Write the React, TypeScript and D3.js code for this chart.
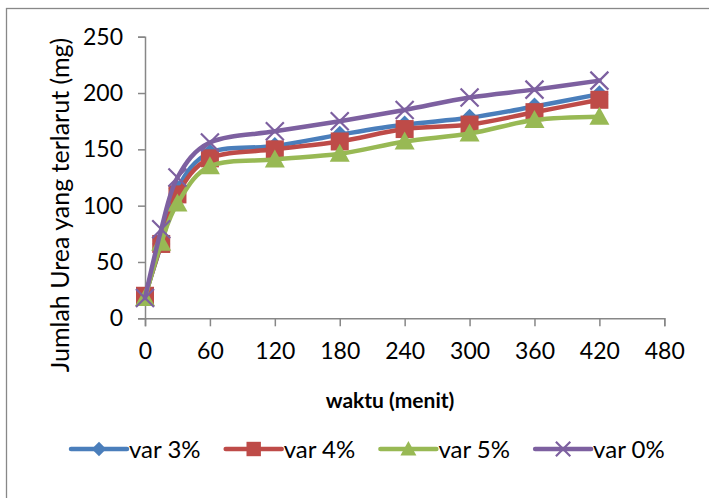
import * as d3 from "d3";
import { useEffect, useRef } from "react";

const minutes = [0, 15, 30, 60, 120, 180, 240, 300, 360, 420];
const var3 = [20, 66, 115, 147, 153, 163, 172, 178, 188, 199];
const var4 = [20, 66, 110, 142, 150, 157, 168, 172, 183, 194];
const var5 = [18, 67, 102, 135, 141, 146, 157, 164, 176, 179];
const var0 = [18, 79, 125, 156, 166, 175, 185, 196, 203, 211];
const seriesNames = ["var 3%", "var 4%", "var 5%", "var 0%"];
const xTicks = [0, 60, 120, 180, 240, 300, 360, 420, 480];
const yTicks = [0, 50, 100, 150, 200, 250];

const W = 709;
const H = 498;
const FONT = "Lato, 'Open Sans', sans-serif";

const App = () => {
  const ref = useRef<SVGSVGElement>(null);

  useEffect(() => {
    const svg = d3.select(ref.current);
    svg.selectAll("*").remove();

    const x = d3.scaleLinear().domain([0, 480]).range([145, 664.3]);
    const y = d3.scaleLinear().domain([0, 250]).range([318.3, 36.7]);

    // outer chart frame
    svg.append("rect")
      .attr("x", 6.5).attr("y", 8.5)
      .attr("width", 740).attr("height", 520)
      .attr("fill", "white").attr("stroke", "#888").attr("stroke-width", 1.3);

    const axisColor = "#878787";

    const gx = svg.append("g").attr("transform", `translate(0,${y(0)})`)
      .call(d3.axisBottom(x).tickValues(xTicks).tickSize(8).tickPadding(16));
    gx.select(".domain").attr("stroke", axisColor).attr("stroke-width", 1.5);
    gx.selectAll(".tick line").attr("stroke", axisColor).attr("stroke-width", 1.5);
    gx.selectAll("text").attr("font-family", FONT).attr("font-size", 23).attr("fill", "#000");

    const gy = svg.append("g").attr("transform", `translate(${x(0)},0)`)
      .call(d3.axisLeft(y).tickValues(yTicks).tickSize(7).tickPadding(15));
    gy.select(".domain").attr("stroke", axisColor).attr("stroke-width", 1.5);
    gy.selectAll(".tick line").attr("stroke", axisColor).attr("stroke-width", 1.5);
    gy.selectAll("text").attr("font-family", FONT).attr("font-size", 23).attr("fill", "#000");

    svg.append("text")
      .attr("x", 390).attr("y", 408)
      .attr("text-anchor", "middle")
      .attr("font-family", FONT).attr("font-weight", "bold").attr("font-size", 21)
      .text("waktu (menit)");

    svg.append("text")
      .attr("transform", `translate(69,205) rotate(-90)`)
      .attr("text-anchor", "middle")
      .attr("font-family", FONT).attr("font-size", 25)
      .text("Jumlah Urea yang terlarut (mg)");

    const series = [
      { name: seriesNames[0], values: var3, color: "#4A7EBB", marker: "diamond" },
      { name: seriesNames[1], values: var4, color: "#BE4B48", marker: "square" },
      { name: seriesNames[2], values: var5, color: "#98B954", marker: "triangle" },
      { name: seriesNames[3], values: var0, color: "#7D60A0", marker: "x" },
    ];

    const drawMarker = (g: any, kind: string, color: string, cx: number, cy: number, scale = 1) => {
      if (kind === "diamond") {
        const s = 9 * scale;
        g.append("path")
          .attr("d", `M${cx},${cy - s}L${cx + s},${cy}L${cx},${cy + s}L${cx - s},${cy}Z`)
          .attr("fill", color);
      } else if (kind === "square") {
        const s = 9 * scale;
        g.append("rect")
          .attr("x", cx - s).attr("y", cy - s)
          .attr("width", 2 * s).attr("height", 2 * s)
          .attr("fill", color);
      } else if (kind === "triangle") {
        const s = 10 * scale;
        g.append("path")
          .attr("d", `M${cx},${cy - s}L${cx + s},${cy + s * 0.8}L${cx - s},${cy + s * 0.8}Z`)
          .attr("fill", color);
      } else {
        const s = 9 * scale;
        g.append("path")
          .attr("d", `M${cx - s},${cy - s}L${cx + s},${cy + s}M${cx + s},${cy - s}L${cx - s},${cy + s}`)
          .attr("stroke", color).attr("stroke-width", 2.2).attr("fill", "none");
      }
    };

    const line = d3.line<number>()
      .x((_, i) => x(minutes[i]))
      .y(d => y(d))
      .curve(d3.curveCatmullRom.alpha(0));

    series.forEach(s => {
      const g = svg.append("g");
      g.append("path")
        .attr("d", line(s.values))
        .attr("fill", "none")
        .attr("stroke", s.color)
        .attr("stroke-width", 4.5)
        .attr("stroke-linejoin", "round")
        .attr("stroke-linecap", "round");
      s.values.forEach((v, i) => drawMarker(g, s.marker, s.color, x(minutes[i]), y(v)));
    });

    // legend
    const legendY = 449;
    series.forEach((s, i) => {
      const lx = 71 + i * 154.7;
      const g = svg.append("g");
      g.append("line")
        .attr("x1", lx).attr("x2", lx + 56)
        .attr("y1", legendY).attr("y2", legendY)
        .attr("stroke", s.color).attr("stroke-width", 4.5)
        .attr("stroke-linecap", "round");
      drawMarker(g, s.marker, s.color, lx + 28, legendY, 0.8);
      g.append("text")
        .attr("x", lx + 58).attr("y", legendY + 8.5)
        .attr("font-family", FONT).attr("font-size", 24)
        .text(s.name);
    });
  }, []);

  return (
    <svg ref={ref} width={W} height={H}
      style={{ position: "absolute", left: 0, top: 0, background: "white" }} />
  );
};

export default App;
